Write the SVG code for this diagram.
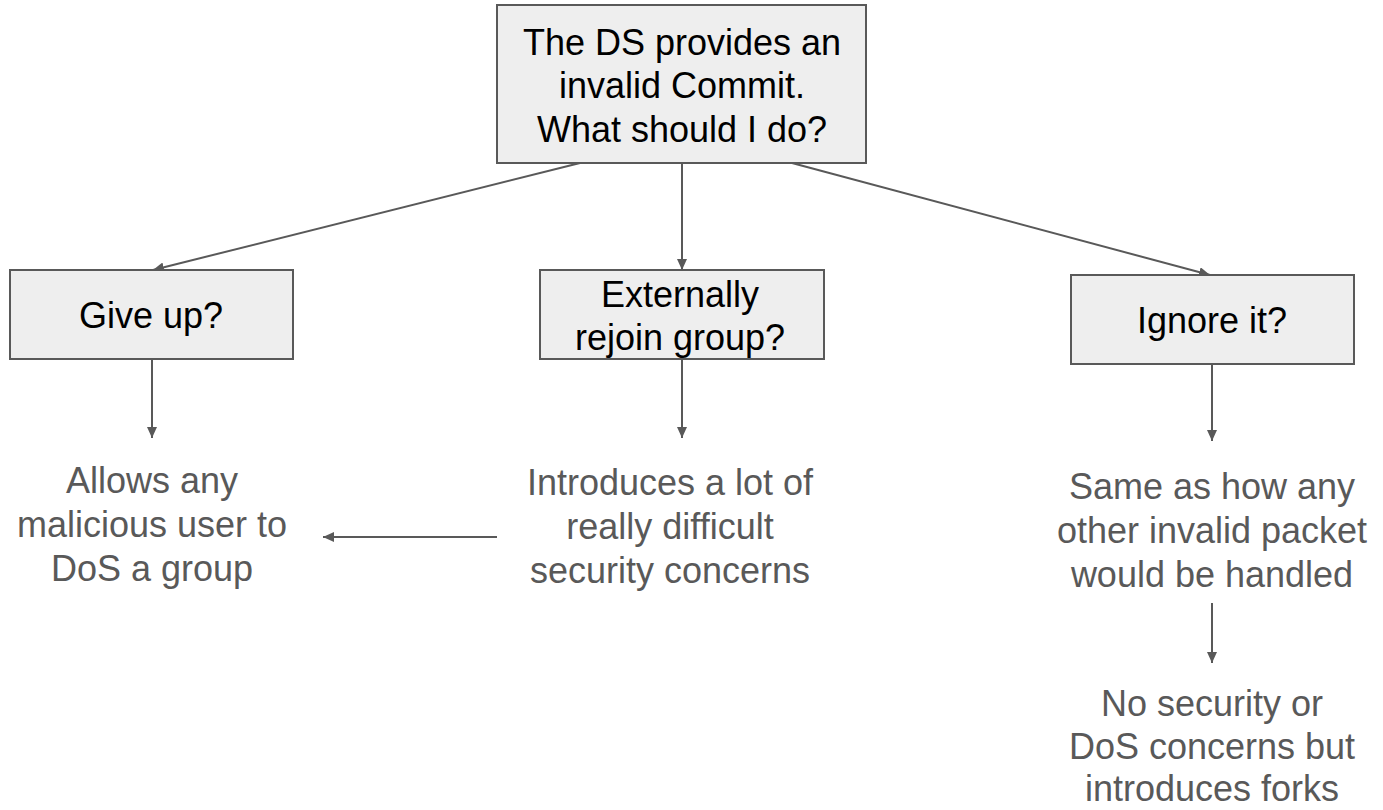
<svg xmlns="http://www.w3.org/2000/svg" width="1383" height="810" viewBox="0 0 1383 810">
<defs>
<marker id="ah" markerUnits="userSpaceOnUse" markerWidth="12" markerHeight="10" refX="11" refY="5" orient="auto">
<path d="M0,0 L11,5 L0,10 Z" fill="#595959"/>
</marker>
<style>
.box{fill:#eeeeee;stroke:#595959;stroke-width:2}
.bt{font-family:"Liberation Sans",Arial,sans-serif;font-size:36px;fill:#000;text-anchor:middle}
.rt{font-family:"Liberation Sans",Arial,sans-serif;font-size:36px;fill:#595959;text-anchor:middle}
.edge{stroke:#595959;stroke-width:2;fill:none;marker-end:url(#ah)}
</style>
</defs>
<rect width="1383" height="810" fill="#ffffff"/>
<g id="connectors">
<line class="edge" x1="580" y1="163" x2="153" y2="270"/>
<line class="edge" x1="682" y1="163" x2="682" y2="270"/>
<line class="edge" x1="792" y1="163" x2="1210" y2="275"/>
<line class="edge" x1="152" y1="359" x2="152" y2="438"/>
<line class="edge" x1="682" y1="359" x2="682" y2="438"/>
<line class="edge" x1="1212" y1="364" x2="1212" y2="441"/>
<line class="edge" x1="497" y1="537" x2="323" y2="537"/>
<line class="edge" x1="1212" y1="603" x2="1212" y2="663"/>
</g>
<g id="question">
<rect class="box" x="497" y="5" width="369" height="158"/>
<text class="bt" x="682" y="55">The DS provides an</text>
<text class="bt" x="682" y="98">invalid Commit.</text>
<text class="bt" x="682" y="142">What should I do?</text>
</g>
<g id="giveup">
<rect class="box" x="10" y="270" width="283" height="89"/>
<text class="bt" x="151" y="328">Give up?</text>
</g>
<g id="rejoin">
<rect class="box" x="540" y="270" width="284" height="89"/>
<text class="bt" x="680" y="307">Externally</text>
<text class="bt" x="680" y="350">rejoin group?</text>
</g>
<g id="ignore">
<rect class="box" x="1071" y="275" width="283" height="89"/>
<text class="bt" x="1212" y="333">Ignore it?</text>
</g>
<g id="giveup-result">
<text class="rt" x="152" y="493">Allows any</text>
<text class="rt" x="152" y="537">malicious user to</text>
<text class="rt" x="152" y="581">DoS a group</text>
</g>
<g id="rejoin-result">
<text class="rt" x="670" y="495">Introduces a lot of</text>
<text class="rt" x="670" y="539">really difficult</text>
<text class="rt" x="670" y="583">security concerns</text>
</g>
<g id="ignore-result">
<text class="rt" x="1212" y="499">Same as how any</text>
<text class="rt" x="1212" y="543">other invalid packet</text>
<text class="rt" x="1212" y="587">would be handled</text>
</g>
<g id="ignore-consequence">
<text class="rt" x="1212" y="716">No security or</text>
<text class="rt" x="1212" y="759">DoS concerns but</text>
<text class="rt" x="1212" y="801">introduces forks</text>
</g>
</svg>
